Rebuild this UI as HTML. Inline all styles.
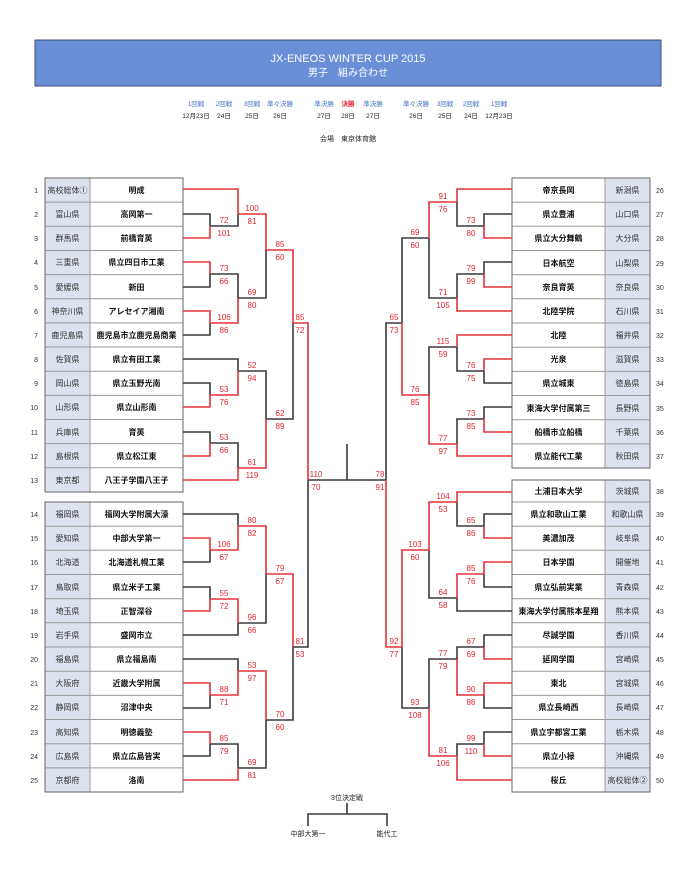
<!DOCTYPE html>
<html><head><meta charset="utf-8"><style>
html,body{margin:0;padding:0;background:#fff;}
svg{display:block;font-family:"Liberation Sans","Noto Sans CJK JP",sans-serif;}
.t{font-size:8px;font-weight:bold;fill:#111;text-anchor:middle}
.p{font-size:8px;fill:#333;text-anchor:middle}
.n{font-size:7px;fill:#333}
.s{font-size:8px;fill:#e0252f;text-anchor:middle}
.k{fill:none;stroke:#3a3a3a;stroke-width:1.6}
.r{fill:none;stroke:#e5323a;stroke-width:1.6}
.rl{font-size:6.5px;fill:#4a74c8;text-anchor:middle}
.dt{font-size:6.5px;fill:#222;text-anchor:middle}
</style></head><body>
<svg width="698" height="876" viewBox="0 0 698 876" xmlns="http://www.w3.org/2000/svg">
<rect x="35" y="40" width="626" height="46" fill="#6b8fd6" stroke="#3d4f7a" stroke-width="1"/>
<text x="348" y="62" fill="#fff" font-size="11" text-anchor="middle">JX-ENEOS WINTER CUP 2015</text>
<text x="348" y="76" fill="#fff" font-size="10" text-anchor="middle">男子　組み合わせ</text>
<g class="rl"><text x="196" y="106" class="rl">1回戦</text><text x="224" y="106" class="rl">2回戦</text><text x="252" y="106" class="rl">3回戦</text><text x="280" y="106" class="rl">準々決勝</text><text x="324" y="106" class="rl">準決勝</text><text x="348" y="106" class="rl" style="fill:#e0252f;font-weight:bold">決勝</text><text x="373" y="106" class="rl">準決勝</text><text x="416" y="106" class="rl">準々決勝</text><text x="445" y="106" class="rl">3回戦</text><text x="471" y="106" class="rl">2回戦</text><text x="499" y="106" class="rl">1回戦</text></g>
<g><text x="196" y="118" class="dt">12月23日</text><text x="224" y="118" class="dt">24日</text><text x="252" y="118" class="dt">25日</text><text x="280" y="118" class="dt">26日</text><text x="324" y="118" class="dt">27日</text><text x="348" y="118" class="dt">28日</text><text x="373" y="118" class="dt">27日</text><text x="416" y="118" class="dt">26日</text><text x="445" y="118" class="dt">25日</text><text x="471" y="118" class="dt">24日</text><text x="499" y="118" class="dt">12月23日</text></g>
<text x="348" y="141" class="dt" style="font-size:7px">会場　東京体育館</text>

<!-- tables -->
<g fill="#dde3ee" stroke="#999" stroke-width="1">
<rect x="45" y="178" width="45" height="314"/><rect x="45" y="502" width="45" height="290"/>
<rect x="605" y="178" width="45" height="290"/><rect x="605" y="480" width="45" height="312"/>
</g>
<g fill="#fff" stroke="#999" stroke-width="1">
<rect x="90" y="178" width="93" height="314"/><rect x="90" y="502" width="93" height="290"/>
<rect x="512" y="178" width="93" height="290"/><rect x="512" y="480" width="93" height="312"/>
</g>
<g stroke="#999" stroke-width="1">
<path d="M45 202.15H183M45 226.3H183M45 250.45H183M45 274.6H183M45 298.75H183M45 322.9H183M45 347.05H183M45 371.2H183M45 395.35H183M45 419.5H183M45 443.65H183M45 467.8H183"/>
<path d="M45 526.2H183M45 550.3H183M45 574.5H183M45 598.7H183M45 622.8H183M45 647H183M45 671.2H183M45 695.4H183M45 719.5H183M45 743.7H183M45 767.9H183"/>
<path d="M512 202.2H650M512 226.3H650M512 250.5H650M512 274.7H650M512 298.8H650M512 323H650M512 347.2H650M512 371.4H650M512 395.5H650M512 419.7H650M512 443.9H650"/>
<path d="M512 502H650M512 526.2H650M512 550.3H650M512 574.5H650M512 598.7H650M512 622.8H650M512 647H650M512 671.2H650M512 695.4H650M512 719.5H650M512 743.7H650M512 767.9H650"/>
</g>
<g stroke="#666" stroke-width="1" fill="none">
<rect x="45" y="178" width="138" height="314"/><rect x="45" y="502" width="138" height="290"/>
<rect x="512" y="178" width="138" height="290"/><rect x="512" y="480" width="138" height="312"/>
</g>

<!-- left names -->
<g>
<text x="67.5" y="193" class="p">高校総体①</text><text x="136.5" y="193" class="t">明成</text><text x="38" y="193" class="n" text-anchor="end">1</text>
<text x="67.5" y="217" class="p">富山県</text><text x="136.5" y="217" class="t">高岡第一</text><text x="38" y="217" class="n" text-anchor="end">2</text>
<text x="67.5" y="241" class="p">群馬県</text><text x="136.5" y="241" class="t">前橋育英</text><text x="38" y="241" class="n" text-anchor="end">3</text>
<text x="67.5" y="265" class="p">三重県</text><text x="136.5" y="265" class="t">県立四日市工業</text><text x="38" y="265" class="n" text-anchor="end">4</text>
<text x="67.5" y="290" class="p">愛媛県</text><text x="136.5" y="290" class="t">新田</text><text x="38" y="290" class="n" text-anchor="end">5</text>
<text x="67.5" y="314" class="p">神奈川県</text><text x="136.5" y="314" class="t">アレセイア湘南</text><text x="38" y="314" class="n" text-anchor="end">6</text>
<text x="67.5" y="338" class="p">鹿児島県</text><text x="136.5" y="338" class="t">鹿児島市立鹿児島商業</text><text x="38" y="338" class="n" text-anchor="end">7</text>
<text x="67.5" y="362" class="p">佐賀県</text><text x="136.5" y="362" class="t">県立有田工業</text><text x="38" y="362" class="n" text-anchor="end">8</text>
<text x="67.5" y="386" class="p">岡山県</text><text x="136.5" y="386" class="t">県立玉野光南</text><text x="38" y="386" class="n" text-anchor="end">9</text>
<text x="67.5" y="410" class="p">山形県</text><text x="136.5" y="410" class="t">県立山形南</text><text x="38" y="410" class="n" text-anchor="end">10</text>
<text x="67.5" y="435" class="p">兵庫県</text><text x="136.5" y="435" class="t">育英</text><text x="38" y="435" class="n" text-anchor="end">11</text>
<text x="67.5" y="459" class="p">島根県</text><text x="136.5" y="459" class="t">県立松江東</text><text x="38" y="459" class="n" text-anchor="end">12</text>
<text x="67.5" y="483" class="p">東京都</text><text x="136.5" y="483" class="t">八王子学園八王子</text><text x="38" y="483" class="n" text-anchor="end">13</text>
<text x="67.5" y="517" class="p">福岡県</text><text x="136.5" y="517" class="t">福岡大学附属大濠</text><text x="38" y="517" class="n" text-anchor="end">14</text>
<text x="67.5" y="541" class="p">愛知県</text><text x="136.5" y="541" class="t">中部大学第一</text><text x="38" y="541" class="n" text-anchor="end">15</text>
<text x="67.5" y="565" class="p">北海道</text><text x="136.5" y="565" class="t">北海道札幌工業</text><text x="38" y="565" class="n" text-anchor="end">16</text>
<text x="67.5" y="590" class="p">鳥取県</text><text x="136.5" y="590" class="t">県立米子工業</text><text x="38" y="590" class="n" text-anchor="end">17</text>
<text x="67.5" y="614" class="p">埼玉県</text><text x="136.5" y="614" class="t">正智深谷</text><text x="38" y="614" class="n" text-anchor="end">18</text>
<text x="67.5" y="638" class="p">岩手県</text><text x="136.5" y="638" class="t">盛岡市立</text><text x="38" y="638" class="n" text-anchor="end">19</text>
<text x="67.5" y="662" class="p">福島県</text><text x="136.5" y="662" class="t">県立福島南</text><text x="38" y="662" class="n" text-anchor="end">20</text>
<text x="67.5" y="686" class="p">大阪府</text><text x="136.5" y="686" class="t">近畿大学附属</text><text x="38" y="686" class="n" text-anchor="end">21</text>
<text x="67.5" y="710" class="p">静岡県</text><text x="136.5" y="710" class="t">沼津中央</text><text x="38" y="710" class="n" text-anchor="end">22</text>
<text x="67.5" y="735" class="p">高知県</text><text x="136.5" y="735" class="t">明徳義塾</text><text x="38" y="735" class="n" text-anchor="end">23</text>
<text x="67.5" y="759" class="p">広島県</text><text x="136.5" y="759" class="t">県立広島皆実</text><text x="38" y="759" class="n" text-anchor="end">24</text>
<text x="67.5" y="783" class="p">京都府</text><text x="136.5" y="783" class="t">洛南</text><text x="38" y="783" class="n" text-anchor="end">25</text>
</g>
<!-- right names -->
<g>
<text x="558.5" y="193" class="t">帝京長岡</text><text x="627.5" y="193" class="p">新潟県</text><text x="656" y="193" class="n">26</text>
<text x="558.5" y="217" class="t">県立豊浦</text><text x="627.5" y="217" class="p">山口県</text><text x="656" y="217" class="n">27</text>
<text x="558.5" y="241" class="t">県立大分舞鶴</text><text x="627.5" y="241" class="p">大分県</text><text x="656" y="241" class="n">28</text>
<text x="558.5" y="266" class="t">日本航空</text><text x="627.5" y="266" class="p">山梨県</text><text x="656" y="266" class="n">29</text>
<text x="558.5" y="290" class="t">奈良育英</text><text x="627.5" y="290" class="p">奈良県</text><text x="656" y="290" class="n">30</text>
<text x="558.5" y="314" class="t">北陸学院</text><text x="627.5" y="314" class="p">石川県</text><text x="656" y="314" class="n">31</text>
<text x="558.5" y="338" class="t">北陸</text><text x="627.5" y="338" class="p">福井県</text><text x="656" y="338" class="n">32</text>
<text x="558.5" y="362" class="t">光泉</text><text x="627.5" y="362" class="p">滋賀県</text><text x="656" y="362" class="n">33</text>
<text x="558.5" y="386" class="t">県立城東</text><text x="627.5" y="386" class="p">徳島県</text><text x="656" y="386" class="n">34</text>
<text x="558.5" y="411" class="t">東海大学付属第三</text><text x="627.5" y="411" class="p">長野県</text><text x="656" y="411" class="n">35</text>
<text x="558.5" y="435" class="t">船橋市立船橋</text><text x="627.5" y="435" class="p">千葉県</text><text x="656" y="435" class="n">36</text>
<text x="558.5" y="459" class="t">県立能代工業</text><text x="627.5" y="459" class="p">秋田県</text><text x="656" y="459" class="n">37</text>
<text x="558.5" y="494" class="t">土浦日本大学</text><text x="627.5" y="494" class="p">茨城県</text><text x="656" y="494" class="n">38</text>
<text x="558.5" y="517" class="t">県立和歌山工業</text><text x="627.5" y="517" class="p">和歌山県</text><text x="656" y="517" class="n">39</text>
<text x="558.5" y="541" class="t">美濃加茂</text><text x="627.5" y="541" class="p">岐阜県</text><text x="656" y="541" class="n">40</text>
<text x="558.5" y="565" class="t">日本学園</text><text x="627.5" y="565" class="p">開催地</text><text x="656" y="565" class="n">41</text>
<text x="558.5" y="590" class="t">県立弘前実業</text><text x="627.5" y="590" class="p">青森県</text><text x="656" y="590" class="n">42</text>
<text x="558.5" y="614" class="t">東海大学付属熊本星翔</text><text x="627.5" y="614" class="p">熊本県</text><text x="656" y="614" class="n">43</text>
<text x="558.5" y="638" class="t">尽誠学園</text><text x="627.5" y="638" class="p">香川県</text><text x="656" y="638" class="n">44</text>
<text x="558.5" y="662" class="t">延岡学園</text><text x="627.5" y="662" class="p">宮崎県</text><text x="656" y="662" class="n">45</text>
<text x="558.5" y="686" class="t">東北</text><text x="627.5" y="686" class="p">宮城県</text><text x="656" y="686" class="n">46</text>
<text x="558.5" y="710" class="t">県立長崎西</text><text x="627.5" y="710" class="p">長崎県</text><text x="656" y="710" class="n">47</text>
<text x="558.5" y="735" class="t">県立宇都宮工業</text><text x="627.5" y="735" class="p">栃木県</text><text x="656" y="735" class="n">48</text>
<text x="558.5" y="759" class="t">県立小禄</text><text x="627.5" y="759" class="p">沖縄県</text><text x="656" y="759" class="n">49</text>
<text x="558.5" y="783" class="t">桜丘</text><text x="627.5" y="783" class="p">高校総体②</text><text x="656" y="783" class="n">50</text>
</g>

<!-- black lines -->
<path class="k" d="M183 214H210V226 M210 226H238V214 M183 287H210V274 M183 335H210V323 M210 274H238V298 M238 298H266V250 M183 383H210V395 M183 359H238V371 M183 432H210V443 M210 443H238V468 M238 371H266V419 M266 419H293V323
M183 562H210V550 M183 514H238V526 M183 587H210V599 M183 635H238V623 M238 623H266V574 M183 708H210V695 M183 659H238V671 M183 756H210V744 M210 744H238V768 M238 768H266V720 M266 720H293V647 M293 647H308V480
M308 480H386 M347 480V444
M512 214H484V226 M484 226H457V202 M512 262H484V274 M484 274H457V298 M457 298H429V238 M512 383H484V371 M484 371H457V347 M512 407H484V419 M484 419H457V444 M457 347H429V395 M429 238H402V323
M512 514H484V526 M484 526H457V502 M512 587H484V574 M512 611H457V598 M457 598H429V550 M512 635H484V647 M512 708H484V695 M484 647H457V659 M512 732H484V744 M484 744H457V756 M457 659H429V708 M429 708H402V647 M402 323H386V480"/>
<!-- red lines -->
<path class="r" d="M183 238H210V226 M183 189H238V214 M183 262H210V274 M183 311H210V323 M210 323H238V298 M238 214H266V250 M183 407H210V395 M210 395H238V371 M183 456H210V443 M183 480H238V468 M238 468H266V419 M266 250H293V323
M183 538H210V550 M210 550H238V526 M183 611H210V599 M210 599H238V623 M238 526H266V574 M183 683H210V695 M210 695H238V671 M183 732H210V744 M183 780H238V768 M238 671H266V720 M266 574H293V647 M293 323H308V480
M512 238H484V226 M512 189H457V202 M512 287H484V274 M512 311H457V298 M457 202H429V238 M512 359H484V371 M512 335H457V347 M512 432H484V419 M512 456H457V444 M457 444H429V395 M429 395H402V323
M512 538H484V526 M512 492H457V502 M512 562H484V574 M484 574H457V598 M457 502H429V550 M512 659H484V647 M512 683H484V695 M484 695H457V659 M512 756H484V744 M512 780H457V756 M457 756H429V708 M429 550H402V647 M402 647H386V480"/>

<!-- scores left -->
<g class="s">
<text x="224" y="223">72</text><text x="224" y="236">101</text>
<text x="252" y="211">100</text><text x="252" y="224">81</text>
<text x="224" y="271">73</text><text x="224" y="284">66</text>
<text x="224" y="320">106</text><text x="224" y="333">86</text>
<text x="252" y="295">69</text><text x="252" y="308">80</text>
<text x="280" y="247">85</text><text x="280" y="260">60</text>
<text x="224" y="392">53</text><text x="224" y="405">76</text>
<text x="252" y="368">52</text><text x="252" y="381">94</text>
<text x="224" y="440">53</text><text x="224" y="453">66</text>
<text x="252" y="465">61</text><text x="252" y="478">119</text>
<text x="280" y="416">62</text><text x="280" y="429">89</text>
<text x="300" y="320">85</text><text x="300" y="333">72</text>
<text x="224" y="547">106</text><text x="224" y="560">67</text>
<text x="252" y="523">80</text><text x="252" y="536">82</text>
<text x="224" y="596">55</text><text x="224" y="609">72</text>
<text x="252" y="620">96</text><text x="252" y="633">66</text>
<text x="280" y="571">79</text><text x="280" y="584">67</text>
<text x="224" y="692">88</text><text x="224" y="705">71</text>
<text x="252" y="668">53</text><text x="252" y="681">97</text>
<text x="224" y="741">85</text><text x="224" y="754">79</text>
<text x="252" y="765">69</text><text x="252" y="778">81</text>
<text x="280" y="717">70</text><text x="280" y="730">60</text>
<text x="300" y="644">81</text><text x="300" y="657">53</text>
<text x="316" y="477">110</text><text x="316" y="490">70</text>
</g>
<!-- scores right -->
<g class="s">
<text x="471" y="223">73</text><text x="471" y="236">80</text>
<text x="443" y="199">91</text><text x="443" y="212">76</text>
<text x="471" y="271">79</text><text x="471" y="284">99</text>
<text x="443" y="295">71</text><text x="443" y="308">105</text>
<text x="415" y="235">69</text><text x="415" y="248">60</text>
<text x="471" y="368">76</text><text x="471" y="381">75</text>
<text x="443" y="344">115</text><text x="443" y="357">59</text>
<text x="471" y="416">73</text><text x="471" y="429">85</text>
<text x="443" y="441">77</text><text x="443" y="454">97</text>
<text x="415" y="392">76</text><text x="415" y="405">85</text>
<text x="394" y="320">65</text><text x="394" y="333">73</text>
<text x="471" y="523">65</text><text x="471" y="536">86</text>
<text x="443" y="499">104</text><text x="443" y="512">53</text>
<text x="471" y="571">85</text><text x="471" y="584">76</text>
<text x="443" y="595">64</text><text x="443" y="608">58</text>
<text x="415" y="547">103</text><text x="415" y="560">60</text>
<text x="471" y="644">67</text><text x="471" y="657">69</text>
<text x="471" y="692">90</text><text x="471" y="705">86</text>
<text x="443" y="656">77</text><text x="443" y="669">79</text>
<text x="471" y="741">99</text><text x="471" y="754">110</text>
<text x="443" y="753">81</text><text x="443" y="766">106</text>
<text x="415" y="705">93</text><text x="415" y="718">108</text>
<text x="394" y="644">92</text><text x="394" y="657">77</text>
<text x="380" y="477">78</text><text x="380" y="490">91</text>
</g>

<!-- 3rd place -->
<text x="347" y="800" class="dt" style="font-size:7px">3位決定戦</text>
<path class="k" d="M347 803V814 M308 826V814H387V826" stroke-width="1.4"/>
<text x="308" y="836" class="dt" style="font-size:7px">中部大第一</text>
<text x="387" y="836" class="dt" style="font-size:7px">能代工</text>
</svg>
</body></html>
